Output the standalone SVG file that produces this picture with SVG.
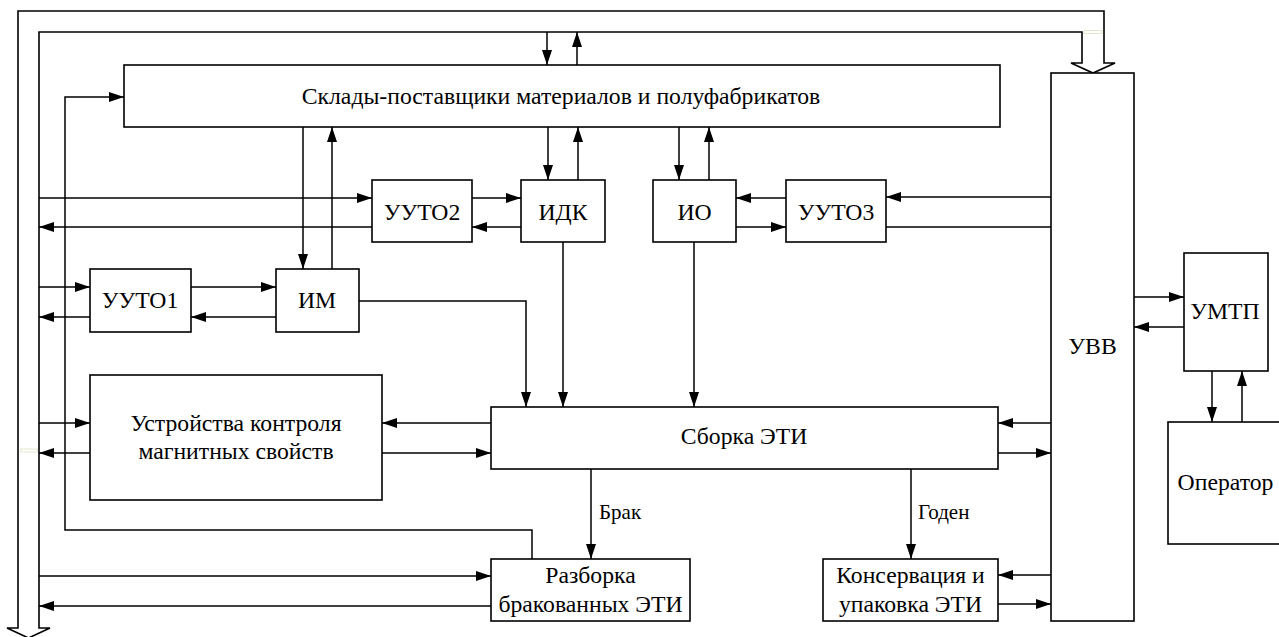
<svg xmlns="http://www.w3.org/2000/svg" width="1279" height="637" viewBox="0 0 1279 637">
<defs>
<marker id="ah" markerUnits="userSpaceOnUse" markerWidth="15" markerHeight="10" refX="15" refY="5" orient="auto" viewBox="0 0 15 10">
<path d="M0,0 L15,5 L0,10 z" fill="#000"/>
</marker>
<style>
.box{fill:#fff;stroke:#000;stroke-width:1.6}
.t{font-size:23.7px;fill:#000;text-anchor:middle}
.lb{font-size:21px;fill:#000}
.c{fill:none;stroke:#000;stroke-width:1.5}
.a{marker-end:url(#ah)}
</style>
</defs>
<rect width="1279" height="637" fill="#fff"/>
<g id="bus">
<polygon points="18,628 18,11 1104,11 1104,63 1115,63 1093,73 1071,63 1082,63 1082,32 39,32 39,628 50,628 28.5,638 7,628" fill="#fff" stroke="#000" stroke-width="1.6"/>
<rect x="1084" y="30.5" width="18" height="3" fill="none" stroke="#e2e7d0" stroke-width="1"/>
<rect x="20.5" y="449" width="17" height="3" fill="none" stroke="#e2e7d0" stroke-width="1"/>
</g>
<g id="connectors" font-family="'Liberation Serif', 'Times New Roman', 'DejaVu Serif', serif">
<path class="c a" d="M547,32 V65"/>
<path class="c a" d="M577,65 V32"/>
<path class="c a" d="M532,559 V530 H65 V97 H124"/>
<path class="c a" d="M303,127 V269"/>
<path class="c a" d="M332,269 V127"/>
<path class="c a" d="M548,127 V180"/>
<path class="c a" d="M578,180 V127"/>
<path class="c a" d="M679,127 V180"/>
<path class="c a" d="M709,180 V127"/>
<path class="c a" d="M39,198 H372"/>
<path class="c a" d="M372,227 H39"/>
<path class="c a" d="M472,198 H521"/>
<path class="c a" d="M521,227 H472"/>
<path class="c a" d="M786,198 H736"/>
<path class="c a" d="M736,227 H786"/>
<path class="c a" d="M1051,197 H886"/>
<path class="c" d="M886,227 H1051"/>
<path class="c a" d="M39,287 H90"/>
<path class="c a" d="M90,317 H39"/>
<path class="c a" d="M191,287 H276"/>
<path class="c a" d="M276,317 H191"/>
<path class="c a" d="M359,301 H526 V407"/>
<path class="c a" d="M563,242 V407"/>
<path class="c a" d="M694,242 V407"/>
<path class="c a" d="M39,423 H90"/>
<path class="c a" d="M90,453 H39"/>
<path class="c a" d="M491,423 H382"/>
<path class="c a" d="M382,453 H491"/>
<path class="c a" d="M1051,423 H998"/>
<path class="c a" d="M998,453 H1051"/>
<path class="c a" d="M591,469 V559"/>
<path class="c a" d="M911,469 V559"/>
<path class="c a" d="M39,576 H491"/>
<path class="c a" d="M491,606 H39"/>
<path class="c a" d="M1051,575 H998"/>
<path class="c a" d="M998,604 H1051"/>
<path class="c a" d="M1134,297 H1184"/>
<path class="c a" d="M1184,327 H1134"/>
<path class="c a" d="M1212,371 V422"/>
<path class="c a" d="M1242,422 V371"/>
<text class="lb" x="599" y="519">Брак</text>
<text class="lb" x="918" y="519">Годен</text>
</g>
<g id="nodes" font-family="'Liberation Serif', 'Times New Roman', 'DejaVu Serif', serif">
<g id="storage"><rect class="box" x="124" y="65" width="876" height="62"/><text class="t" x="561" y="104">Склады-поставщики материалов и полуфабрикатов</text></g>
<g id="uuto2"><rect class="box" x="372" y="180" width="100" height="62"/><text class="t" x="422" y="220">УУТО2</text></g>
<g id="idk"><rect class="box" x="521" y="180" width="84" height="62"/><text class="t" x="563" y="220">ИДК</text></g>
<g id="io"><rect class="box" x="653" y="180" width="83" height="62"/><text class="t" x="694.5" y="220">ИО</text></g>
<g id="uuto3"><rect class="box" x="786" y="180" width="100" height="62"/><text class="t" x="836" y="220">УУТО3</text></g>
<g id="uuto1"><rect class="box" x="90" y="269" width="101" height="63"/><text class="t" x="140" y="308">УУТО1</text></g>
<g id="im"><rect class="box" x="276" y="269" width="83" height="63"/><text class="t" x="317" y="308">ИМ</text></g>
<g id="ukms"><rect class="box" x="90" y="375" width="292" height="125"/><text class="t" x="236" y="431">Устройства контроля</text><text class="t" x="236" y="459">магнитных свойств</text></g>
<g id="sborka"><rect class="box" x="491" y="407" width="507" height="62"/><text class="t" x="744" y="444">Сборка ЭТИ</text></g>
<g id="razborka"><rect class="box" x="491" y="559" width="199" height="62"/><text class="t" x="590.5" y="583">Разборка</text><text class="t" x="590.5" y="612">бракованных ЭТИ</text></g>
<g id="konserv"><rect class="box" x="823" y="559" width="175" height="62"/><text class="t" x="910.5" y="583">Консервация и</text><text class="t" x="910.5" y="612">упаковка ЭТИ</text></g>
<g id="uvv"><rect class="box" x="1051" y="73" width="83" height="548"/><text class="t" x="1092.5" y="354">УВВ</text></g>
<g id="umtp"><rect class="box" x="1184" y="253" width="84" height="118"/><text class="t" x="1225" y="319">УМТП</text></g>
<g id="operator"><rect class="box" x="1168" y="422" width="130" height="122"/><text class="t" x="1225.5" y="490">Оператор</text></g>
</g>
</svg>
